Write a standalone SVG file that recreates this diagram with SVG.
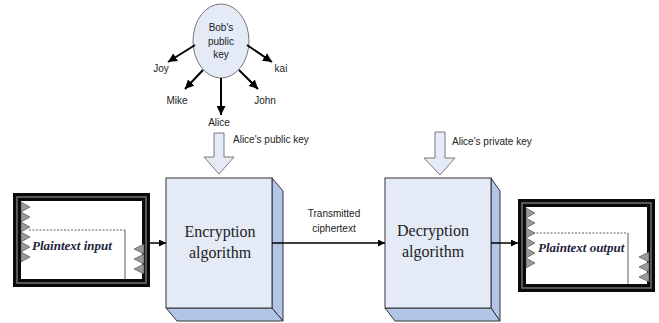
<svg xmlns="http://www.w3.org/2000/svg" width="659" height="323" viewBox="0 0 659 323">
  <style>
    .lbl { font-family: "Liberation Sans", Arial, sans-serif; font-size: 10px; fill: #222; }
    .algo { font-family: "Liberation Serif", "Times New Roman", serif; font-size: 16px; fill: #222; text-anchor: middle; }
    .pt { font-family: "Liberation Serif", "Times New Roman", serif; font-size: 13px; font-weight: bold; font-style: italic; fill: #1f2340; }
    .face { fill: #e4eaf6; stroke: #333; stroke-width: 1; }
    .side { fill: #b3c5e6; stroke: #333; stroke-width: 1; }
    .hollow { fill: #e4eaf6; stroke: #7a7a7a; stroke-width: 1; }
    .frame { fill: #fff; stroke: #0a0a0a; stroke-width: 8; }
    .frameHi { fill: none; stroke: #8c8c8c; stroke-width: 1.5; opacity: 0.8; }
    .tooth { fill: #9a9a9a; stroke: #444; stroke-width: 0.6; }
    .doc { fill: none; stroke: #333; stroke-width: 0.8; }
    .wire { stroke: #000; stroke-width: 1.5; fill: none; }
    .spoke { stroke: #000; stroke-width: 2; fill: none; }
  </style>
  <defs>
    <marker id="arr" viewBox="0 0 10 10" refX="10" refY="5" markerWidth="7" markerHeight="7" markerUnits="userSpaceOnUse" orient="auto">
      <path d="M0,0 L10,5 L0,10 Z" fill="#000"/>
    </marker>
    <marker id="arrBig" viewBox="0 0 10 10" refX="10" refY="5" markerWidth="9" markerHeight="9" markerUnits="userSpaceOnUse" orient="auto">
      <path d="M0,0 L10,5 L0,10 Z" fill="#000"/>
    </marker>
  </defs>

  <!-- Bob's public key and its recipients -->
  <g id="bobKey">
    <ellipse cx="221" cy="41" rx="28" ry="37" fill="#e4eaf6" stroke="#777" stroke-width="1"/>
    <text class="lbl" x="221" y="31" text-anchor="middle">Bob's</text>
    <text class="lbl" x="221" y="45" text-anchor="middle">public</text>
    <text class="lbl" x="221" y="58" text-anchor="middle">key</text>
  </g>
  <g id="joy"><text class="lbl" x="161" y="72" text-anchor="middle">Joy</text></g>
  <g id="kai"><text class="lbl" x="281" y="72" text-anchor="middle">kai</text></g>
  <g id="mike"><text class="lbl" x="177" y="104" text-anchor="middle">Mike</text></g>
  <g id="john"><text class="lbl" x="265" y="104" text-anchor="middle">John</text></g>
  <g id="alice"><text class="lbl" x="219" y="126" text-anchor="middle">Alice</text></g>

  <!-- Key inputs -->
  <g id="alicePublicKey">
    <path class="hollow" d="M214,133 H224 V157 H234 L219,174 L204,157 H214 Z"/>
    <text class="lbl" x="233" y="143">Alice's public key</text>
  </g>
  <g id="alicePrivateKey">
    <path class="hollow" d="M435,132 H445 V158 H455 L440,175 L424,158 H435 Z"/>
    <text class="lbl" x="452" y="145">Alice's private key</text>
  </g>

  <!-- Plaintext input -->
  <g id="plaintextInput">
    <rect class="frame" x="17" y="197" width="129" height="86"/>
    <rect class="frameHi" x="17" y="197" width="129" height="86"/>
    <rect x="21" y="201" width="121" height="78" fill="#fff"/>
    <path class="doc" d="M29,230 H125" stroke-dasharray="2,1.5"/>
    <path class="doc" d="M125,230 V280"/>
    <path class="tooth" d="M21,202 L30,207 L21,212 Z M21,212 L30,217 L21,222 Z M21,222 L30,227 L21,232 Z M21,232 L30,237 L21,242 Z M21,242 L30,247 L21,252 Z M21,252 L30,257 L21,262 Z"/>
    <path class="tooth" d="M144,244 L134,249 L144,254 Z M144,254 L134,259 L144,264 Z M144,264 L134,269 L144,274 Z"/>
    <text class="pt" x="32" y="250">Plaintext input</text>
  </g>

  <!-- Encryption algorithm -->
  <g id="encryption">
    <path class="side" d="M272,178 L283,191 V321 L272,308 Z"/>
    <path class="side" d="M166,308 H272 L283,321 H177 Z"/>
    <rect class="face" x="166" y="178" width="106" height="130"/>
    <text class="algo" x="220" y="237">Encryption</text>
    <text class="algo" x="220" y="258">algorithm</text>
  </g>

  <!-- Decryption algorithm -->
  <g id="decryption">
    <path class="side" d="M491,178 L500,191 V321 L491,308 Z"/>
    <path class="side" d="M385,308 H491 L500,321 H395 Z"/>
    <rect class="face" x="385" y="178" width="106" height="130"/>
    <text class="algo" x="433" y="236">Decryption</text>
    <text class="algo" x="433" y="257">algorithm</text>
  </g>

  <!-- Plaintext output -->
  <g id="plaintextOutput">
    <rect class="frame" x="522" y="203" width="129" height="85"/>
    <rect class="frameHi" x="522" y="203" width="129" height="85"/>
    <rect x="526" y="207" width="121" height="77" fill="#fff"/>
    <path class="doc" d="M533,233 H628" stroke-dasharray="2,1.5"/>
    <path class="doc" d="M628,233 V284"/>
    <path class="tooth" d="M526,208 L535,213 L526,218 Z M526,218 L535,223 L526,228 Z M526,228 L535,233 L526,238 Z M526,238 L535,243 L526,248 Z M526,248 L535,253 L526,258 Z M526,258 L535,263 L526,268 Z"/>
    <path class="tooth" d="M649,252 L639,257 L649,262 Z M649,262 L639,267 L649,272 Z M649,272 L639,277 L649,282 Z"/>
    <text class="pt" x="538" y="252">Plaintext output</text>
  </g>

  <!-- Connectors -->
  <g id="connectors">
    <line class="spoke" x1="195" y1="45" x2="168" y2="62" marker-end="url(#arrBig)"/>
    <line class="spoke" x1="247" y1="45" x2="272" y2="62" marker-end="url(#arrBig)"/>
    <line class="spoke" x1="203" y1="70" x2="185" y2="89" marker-end="url(#arrBig)"/>
    <line class="spoke" x1="239" y1="70" x2="258" y2="89" marker-end="url(#arrBig)"/>
    <line class="spoke" x1="221" y1="78" x2="221" y2="115" marker-end="url(#arrBig)"/>
    <line class="wire" x1="150" y1="243" x2="166" y2="243" marker-end="url(#arr)"/>
    <line class="wire" x1="272" y1="243" x2="385" y2="243" marker-end="url(#arr)"/>
    <text class="lbl" x="334" y="217" text-anchor="middle">Transmitted</text>
    <text class="lbl" x="334" y="232" text-anchor="middle">ciphertext</text>
    <line class="wire" x1="491" y1="243" x2="518" y2="243" marker-end="url(#arr)"/>
  </g>
</svg>
